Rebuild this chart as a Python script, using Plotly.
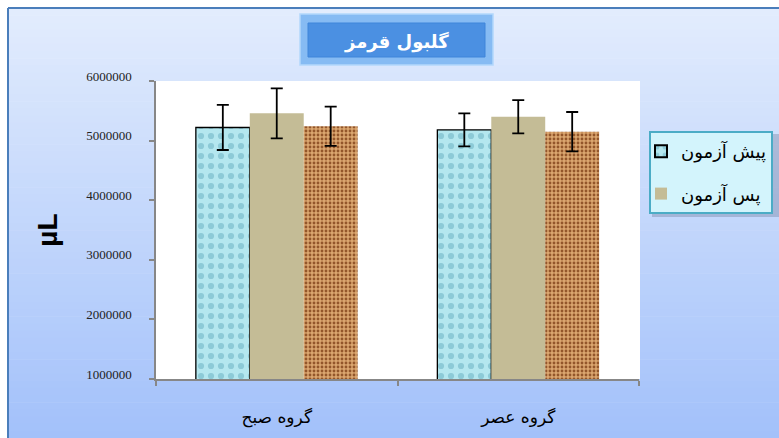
import plotly.graph_objects as go

# ---------------- data ----------------
categories = ["گروه صبح", "گروه عصر"]
series_names = ["پیش آزمون", "پس آزمون", "سری سوم"]
pre_values = [5220000, 5180000]
pre_err = [378000, 277000]
post_values = [5458000, 5400000]
post_err = [419000, 280000]
third_values = [5240000, 5150000]
third_err = [330000, 330000]
y_tick_values = [1000000, 2000000, 3000000, 4000000, 5000000, 6000000]
y_tick_labels = ["1000000", "2000000", "3000000", "4000000", "5000000", "6000000"]
title_text = "گلبول قرمز"
y_title = "µL"

# ---------------- geometry ----------------
W, H = 779, 438
L, R, T, B = 156, 779 - 639, 81, 438 - 379
PW, PH = W - L - R, H - T - B


def px(x):
    return (x - L) / PW


def py(y):
    return (H - B - y) / PH


ARABIC_FONT = "DejaVu Sans"
NUM_FONT = "Liberation Serif"

fig = go.Figure()

err_style = dict(type="data", visible=True, color="black", thickness=1.8, width=6)

fig.add_trace(go.Bar(
    x=categories, y=pre_values, name=series_names[0], legendgroup="g1",
    error_y=dict(array=pre_err, **err_style),
    marker=dict(
        color="#ace2ea",
        line=dict(color="black", width=1.3),
        pattern=dict(shape=".", fgcolor="#8ccad7", bgcolor="#b4e7ef",
                     size=10, solidity=0.3, fillmode="replace"),
    ),
))
fig.add_trace(go.Bar(
    x=categories, y=post_values, name=series_names[1], legendgroup="g2",
    error_y=dict(array=post_err, **err_style),
    marker=dict(color="#c4bc96", line=dict(width=0)),
))
fig.add_trace(go.Bar(
    x=categories, y=third_values, name=series_names[2], showlegend=False,
    legendgroup="g3",
    error_y=dict(array=third_err, **err_style),
    marker=dict(
        color="#d59c64",
        line=dict(width=0),
        pattern=dict(shape=".", fgcolor="#93562a", bgcolor="#dba66f",
                     size=4, solidity=0.4, fillmode="replace"),
    ),
))

shapes = []
# gradient background (chart area)
n = 60
top_c = (0xE2, 0xEC, 0xFD)
bot_c = (0xA3, 0xC1, 0xFA)
y0, y1 = 8, H
for i in range(n):
    f = i / (n - 1)
    c = tuple(int(round(top_c[k] + (bot_c[k] - top_c[k]) * f)) for k in range(3))
    ya = y0 + (y1 - y0) * i / n
    yb = y0 + (y1 - y0) * (i + 1) / n + 0.6
    shapes.append(dict(type="rect", xref="paper", yref="paper", layer="below",
                       x0=px(8), x1=px(W + 2), y0=py(yb), y1=py(ya),
                       fillcolor="rgb(%d,%d,%d)" % c, line=dict(width=0)))
# white plot area
shapes.append(dict(type="rect", xref="paper", yref="paper", layer="below",
                   x0=0, x1=px(640), y0=0, y1=1,
                   fillcolor="white", line=dict(width=0)))
# chart frame (left and top edges)
shapes.append(dict(type="line", xref="paper", yref="paper", layer="below",
                   x0=px(8), x1=px(8), y0=py(8), y1=py(H + 2),
                   line=dict(color="#4a7ebb", width=2)))
shapes.append(dict(type="line", xref="paper", yref="paper", layer="below",
                   x0=px(8), x1=px(W + 2), y0=py(8), y1=py(8),
                   line=dict(color="#4a7ebb", width=2)))
# title box
shapes.append(dict(type="rect", xref="paper", yref="paper",
                   x0=px(300), x1=px(493), y0=py(65), y1=py(14),
                   fillcolor="#86bbf3", line=dict(color="#b3d7fc", width=1.5)))
shapes.append(dict(type="rect", xref="paper", yref="paper",
                   x0=px(308), x1=px(485), y0=py(57), y1=py(23),
                   fillcolor="#4b90e2", line=dict(color="#3f85da", width=1)))
# legend shadow
shapes.append(dict(type="rect", xref="paper", yref="paper",
                   x0=px(652), x1=px(W + 5), y0=py(217), y1=py(134),
                   fillcolor="rgba(90,100,130,0.3)", line=dict(width=0)))

fig.update_layout(
    width=W, height=H,
    margin=dict(l=L, r=R, t=T, b=B, pad=0, autoexpand=False),
    paper_bgcolor="white", plot_bgcolor="white",
    barmode="group", bargap=0.33, bargroupgap=0,
    showlegend=True,
    legend=dict(
        x=px(649), y=py(131), xanchor="left", yanchor="top",
        bgcolor="#d3f4fc", bordercolor="#4bacc6", borderwidth=2,
        font=dict(family=ARABIC_FONT, size=18, color="black"),
        tracegroupgap=16, traceorder="grouped", indentation=-10,
        itemsizing="constant", entrywidth=130, entrywidthmode="pixels",
    ),
    shapes=shapes,
    xaxis=dict(
        type="category", showline=True, linecolor="#878787", linewidth=2,
        ticks="outside", tickson="boundaries", ticklen=5, tickcolor="#878787",
        tickwidth=1.5, showgrid=False, zeroline=False, automargin=False,
        tickfont=dict(family=ARABIC_FONT, size=17, color="black"),
        ticklabelstandoff=22, fixedrange=True,
    ),
    yaxis=dict(
        range=[1000000, 6000000], tickmode="array",
        tickvals=y_tick_values, ticktext=y_tick_labels,
        showline=True, linecolor="#878787", linewidth=1.5,
        ticks="outside", ticklen=5, tickcolor="#878787", tickwidth=1.5,
        showgrid=False, zeroline=False, automargin=False,
        tickfont=dict(family=NUM_FONT, size=13, color="#222222"),
        ticklabelstandoff=15, ticklabelshift=-5,
        title=dict(text=y_title, standoff=20,
                   font=dict(family="Liberation Sans", size=28, color="black",
                             weight="bold")),
    ),
    annotations=[dict(
        text="<b>" + title_text + "</b>", xref="paper", yref="paper",
        x=px(396), y=py(42), xanchor="center", yanchor="middle", showarrow=False,
        font=dict(family=ARABIC_FONT, size=18, color="white"),
    )],
)

fig.write_html("out.html")
